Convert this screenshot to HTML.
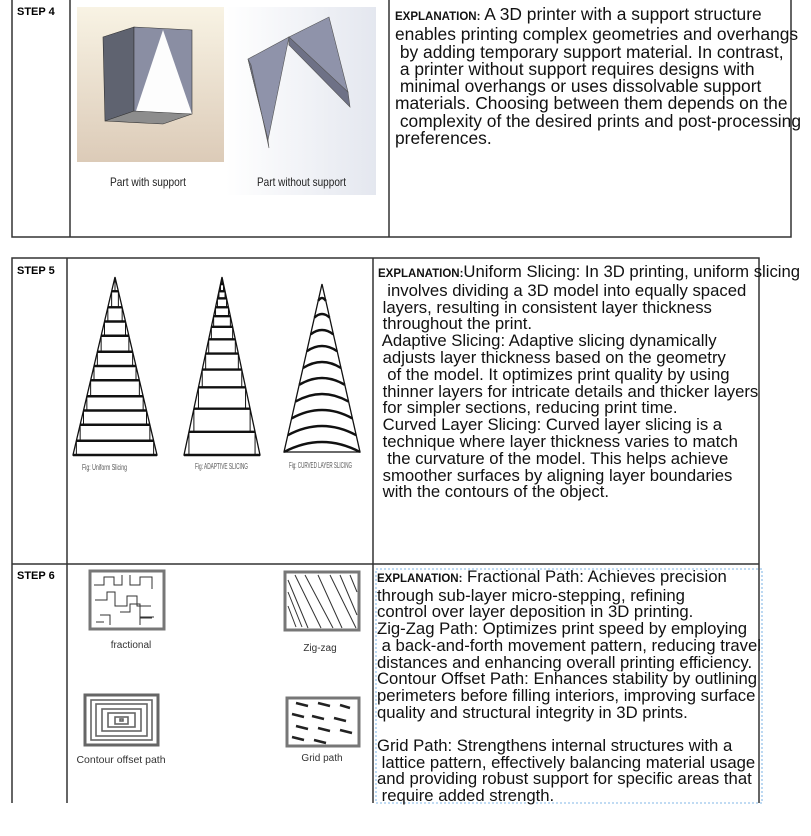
<!DOCTYPE html>
<html><head><meta charset="utf-8">
<style>
body{margin:0;background:#fff;width:811px;height:836px;overflow:hidden;position:relative;font-family:"Liberation Sans",Arial,sans-serif;}
svg{position:absolute;left:0;top:0}
.t{position:absolute;font-size:16.7px;line-height:17.2px;white-space:pre;color:#111;}
.ex{font-size:11.5px;font-weight:bold;}
.step{position:absolute;font-size:11px;font-weight:bold;}
</style></head><body>
<svg width="811" height="836" id="fig">
 <defs>
  <linearGradient id="beige" x1="0" y1="0" x2="0" y2="1"><stop offset="0" stop-color="#f8f3e4"/><stop offset="1" stop-color="#dccbb8"/></linearGradient>
  <linearGradient id="cool" x1="0" y1="0" x2="1" y2="0"><stop offset="0" stop-color="#ffffff"/><stop offset="1" stop-color="#e4e7ef"/></linearGradient>
 </defs>
 <g stroke="#333" stroke-width="1.5" fill="none">
  <path d="M12 0V237H791V0M70 0V237M389 0V237"/>
  <path d="M12 258H759V564H12ZM67 258V803M373 258V803M12 564V803M759 564V803"/>
 </g>
 <rect x="376" y="569" width="386" height="234" fill="none" stroke="#5aa0e0" stroke-width="0.8" stroke-dasharray="2,2"/>
 <g>
  <rect x="77" y="7" width="147" height="155" fill="url(#beige)"/>
  <polygon points="103,37 134,27 134,115 105,121" fill="#5f6370" stroke="#333" stroke-width="0.6"/>
  <polygon points="134,27 192,30 192,114 134,115" fill="#8a8ea3" stroke="#333" stroke-width="0.6"/>
  <polygon points="163,30 192,114 136,111" fill="#fdfdfd"/>
  <polygon points="105,121 134,111 192,114 163,124" fill="#8d8d8d" stroke="#333" stroke-width="0.6"/>
 </g>
 <rect x="226" y="7" width="150" height="188" fill="url(#cool)"/>
 <g stroke="#555" stroke-width="0.6">
  <polygon points="248,59 289,37 268,140" fill="#8f93aa"/>
  <polygon points="248,59 251,65 269,148 268,140" fill="#6e7186"/>
  <polygon points="289,37 329,17 348,92 289,45" fill="#8f93aa"/>
  <polygon points="289,37 289,45 350,107 348,92" fill="#6e7186"/>
 </g>
 <text x="110" y="186" font-size="12" textLength="76" lengthAdjust="spacingAndGlyphs" fill="#222">Part with support</text>
 <text x="257" y="186" font-size="12" textLength="89" lengthAdjust="spacingAndGlyphs" fill="#222">Part without support</text>
 <g id="slicing"></g>
 <text x="82" y="470" font-size="8" textLength="45" lengthAdjust="spacingAndGlyphs" fill="#555">Fig: Uniform Slicing</text>
 <text x="195" y="469" font-size="8" textLength="53" lengthAdjust="spacingAndGlyphs" fill="#555">Fig: ADAPTIVE SLICING</text>
 <text x="289" y="468" font-size="8" textLength="63" lengthAdjust="spacingAndGlyphs" fill="#555">Fig: CURVED LAYER SLICING</text>
 <g>
  <rect x="90" y="571" width="74" height="58" fill="#fff" stroke="#777" stroke-width="3"/>
  <path d="M94 585h10v-8h10v8h8v-10M130 575v10h10v-8h12v12M95 600h12v-8h8v14h12v-10h10v10h14M100 615h10v10M120 612h10v-8h10v14h12M96 622h8M140 625v-8h14" fill="none" stroke="#333" stroke-width="1"/>
 </g>
 <text x="131" y="648" font-size="10" text-anchor="middle" fill="#333">fractional</text>
 <g>
  <rect x="285" y="572" width="74" height="58" fill="#fff" stroke="#777" stroke-width="3"/>
  <path d="M288 580l20 48M295 575l26 53M305 575l28 53M318 575l24 53M330 575l26 53M340 575l17 40M350 575l7 17M288 592l14 35M288 606l8 21" stroke="#333" stroke-width="1"/>
 </g>
 <text x="320" y="651" font-size="10" text-anchor="middle" fill="#333">Zig-zag</text>
 <g fill="none" stroke="#666" stroke-width="1.6">
  <rect x="85" y="695" width="73" height="50" stroke-width="3"/>
  <rect x="91" y="700" width="61" height="40"/><rect x="96" y="704" width="51" height="32"/>
  <rect x="102" y="709" width="39" height="22"/><rect x="108" y="713" width="27" height="14"/>
  <rect x="115" y="717" width="13" height="7"/><rect x="120" y="719" width="3" height="2"/>
 </g>
 <text x="121" y="763" font-size="10.5" text-anchor="middle" fill="#333">Contour offset path</text>
 <g>
  <rect x="287" y="698" width="72" height="48" fill="#fff" stroke="#777" stroke-width="3"/>
  <path d="M296 703l12 3M318 703l12 3M340 705l10 3M292 714l12 3M312 716l12 3M334 718l12 3M296 726l12 3M318 728l12 3M340 730l12 3M292 737l12 3M314 740l12 3" stroke="#222" stroke-width="2.5"/>
 </g>
 <text x="322" y="761" font-size="10" text-anchor="middle" fill="#333">Grid path</text>
</svg>

<div class="step" style="left:17px;top:6px">STEP 4</div>
<div class="step" style="left:17px;top:265px">STEP 5</div>
<div class="step" style="left:17px;top:570px">STEP 6</div>

<div class="t" style="left:395px;top:6px;font-size:17.4px;line-height:17.3px"><span class="ex">EXPLANATION:</span> A 3D printer with a support structure
enables printing complex geometries and overhangs
 by adding temporary support material. In contrast,
 a printer without support requires designs with
 minimal overhangs or uses dissolvable support
materials. Choosing between them depends on the
 complexity of the desired prints and post-processing
preferences.</div>

<div class="t" style="left:378px;top:264px;line-height:16.8px"><span class="ex">EXPLANATION:</span>Uniform Slicing: In 3D printing, uniform slicing
  involves dividing a 3D model into equally spaced
 layers, resulting in consistent layer thickness
 throughout the print.
 Adaptive Slicing: Adaptive slicing dynamically
 adjusts layer thickness based on the geometry
  of the model. It optimizes print quality by using
 thinner layers for intricate details and thicker layers
 for simpler sections, reducing print time.
 Curved Layer Slicing: Curved layer slicing is a
 technique where layer thickness varies to match
  the curvature of the model. This helps achieve
 smoother surfaces by aligning layer boundaries
 with the contours of the object.</div>

<div class="t" style="left:377px;top:569px;line-height:16.7px"><span class="ex">EXPLANATION:</span> Fractional Path: Achieves precision
through sub-layer micro-stepping, refining
control over layer deposition in 3D printing.
Zig-Zag Path: Optimizes print speed by employing
 a back-and-forth movement pattern, reducing travel
distances and enhancing overall printing efficiency.
Contour Offset Path: Enhances stability by outlining
perimeters before filling interiors, improving surface
quality and structural integrity in 3D prints.

Grid Path: Strengthens internal structures with a
 lattice pattern, effectively balancing material usage
and providing robust support for specific areas that
 require added strength.</div>

<script>
const uniformLayers = [0.08,0.17,0.25,0.33,0.42,0.5,0.58,0.67,0.75,0.83,0.92,1];
const adaptiveLayers = [0.04,0.08,0.12,0.17,0.22,0.28,0.35,0.43,0.52,0.62,0.74,0.87,1];
const curvedLayers = [0.1,0.2,0.3,0.4,0.5,0.6,0.7,0.8,0.9,1];
const ns = "http://www.w3.org/2000/svg";
const g = document.getElementById('slicing');
function mk(tag, attrs){const e=document.createElementNS(ns,tag);for(const k in attrs)e.setAttribute(k,attrs[k]);g.appendChild(e);return e;}
function triangle(cx, apexY, baseY, halfW, layers, curved, name){
  const H = baseY-apexY;
  const outline = mk('polygon',{points:`${cx},${apexY} ${cx-halfW},${baseY} ${cx+halfW},${baseY}`,fill:'none',stroke:'#111','stroke-width':1.3});
  
  
  let prev = 0;
  layers.forEach((f)=>{
    const y = apexY + f*H, w = halfW*f;
    let el;
    if(curved){
      const sag = 8*f+2;
      el = mk('path',{d:`M${cx-w} ${y} Q${cx} ${y-sag*2} ${cx+w} ${y}`,fill:'none',stroke:'#111','stroke-width':2.4});
    } else {
      el = mk('line',{x1:cx-w,y1:y,x2:cx+w,y2:y,stroke:'#111','stroke-width':2.4});
      const pw = halfW*prev;
      const v1 = mk('line',{x1:cx-pw,y1:apexY+prev*H,x2:cx-pw,y2:y,stroke:'#111','stroke-width':1});
      
      
      const v2 = mk('line',{x1:cx+pw,y1:apexY+prev*H,x2:cx+pw,y2:y,stroke:'#111','stroke-width':1});
      
      
    }
    
    
    prev = f;
  });
}
triangle(115, 277, 455, 42, uniformLayers, false, 'uniform-slicing');
triangle(222, 277, 455, 38, adaptiveLayers, false, 'adaptive-slicing');
triangle(322, 284, 452, 38, curvedLayers, true, 'curved-slicing');
</script>
</body></html>
